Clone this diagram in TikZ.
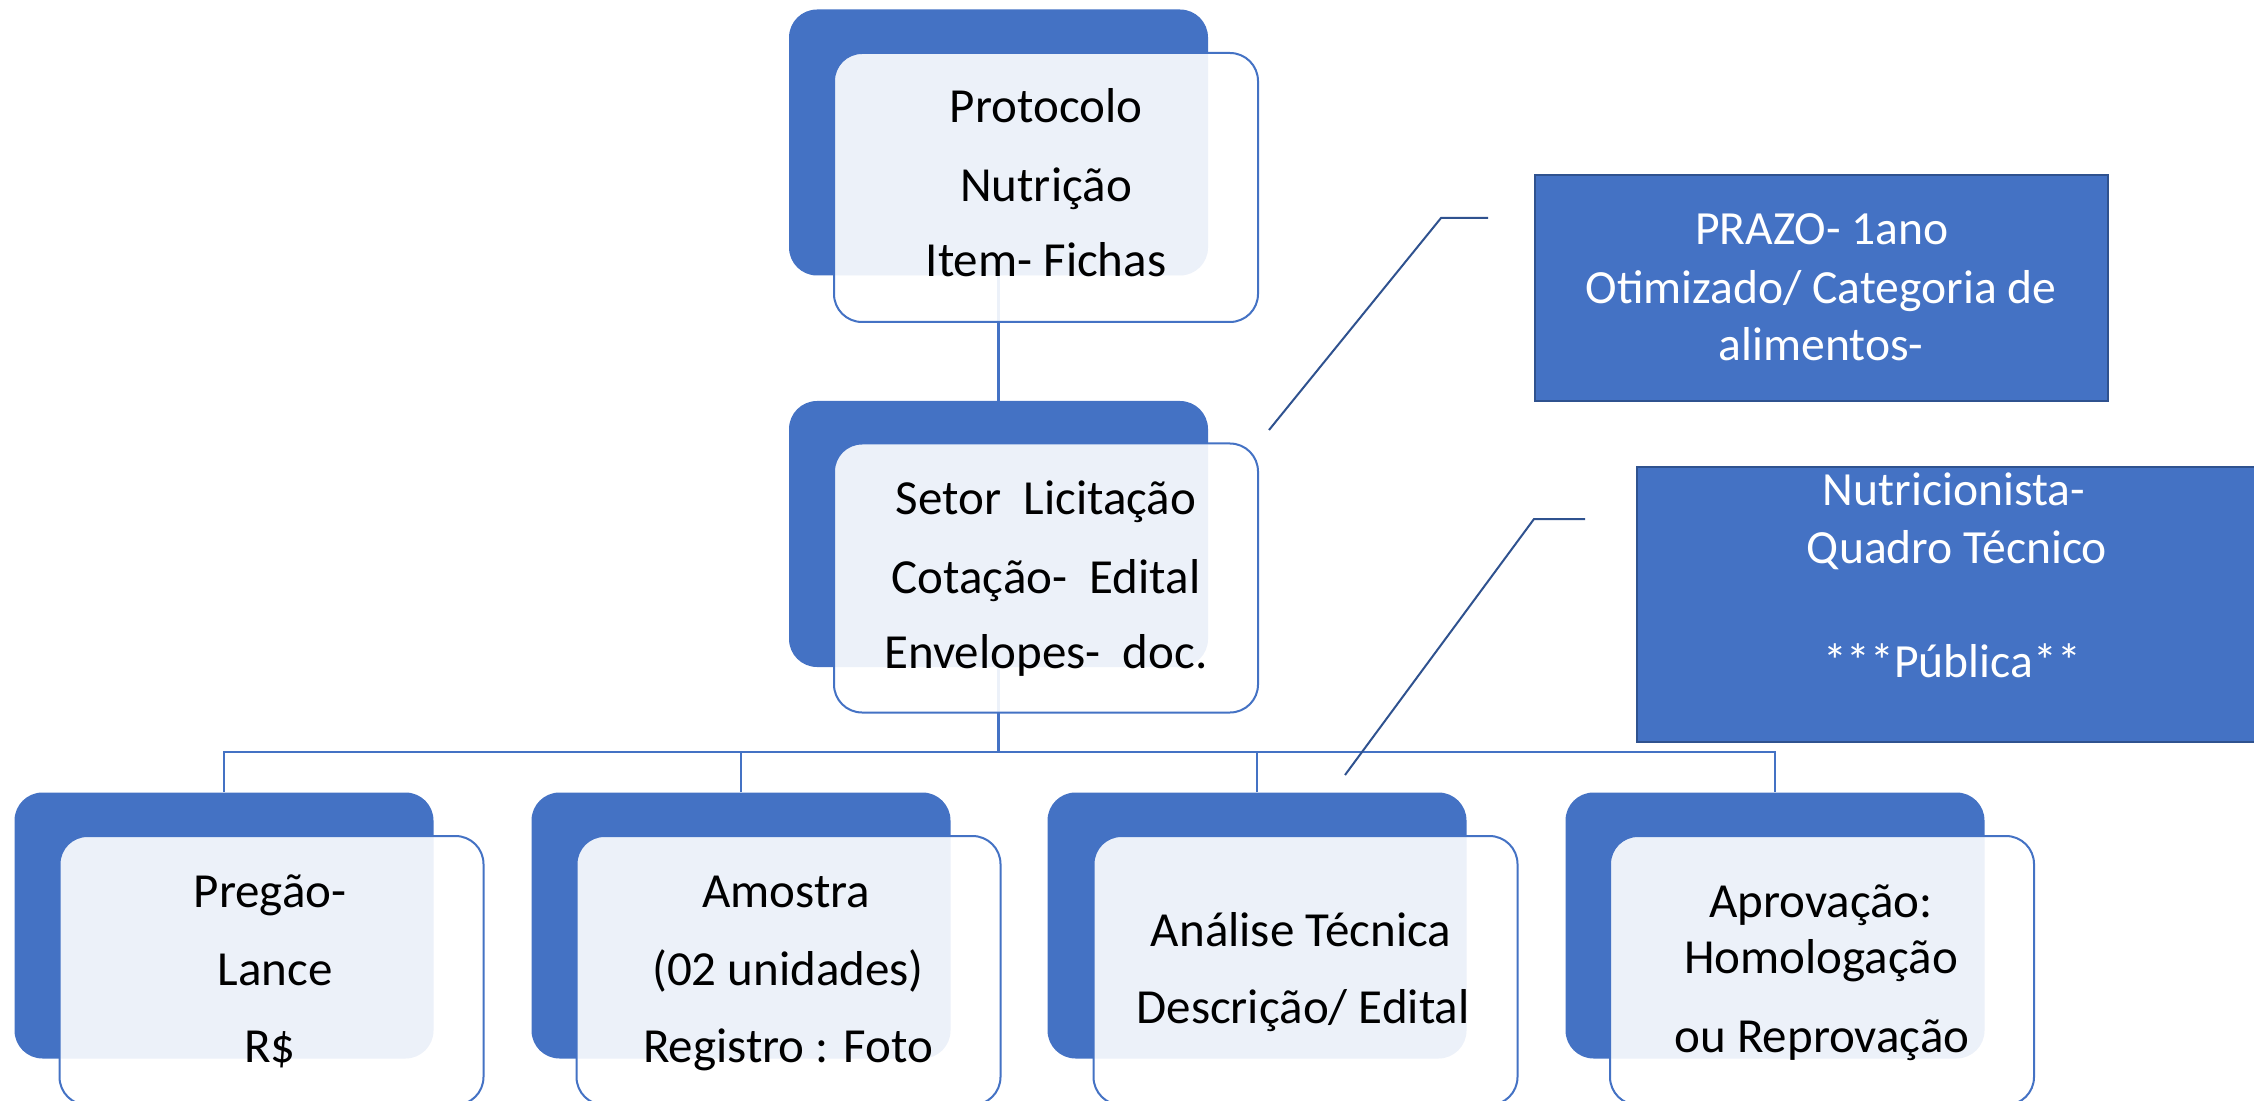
\documentclass[tikz,border=0pt]{standalone}
\usepackage{fontspec}
\setmainfont{Carlito}
\definecolor{sablue}{HTML}{4472C4}
\definecolor{sadark}{HTML}{2F528F}
\tikzset{
  backbox/.style={fill=sablue, draw=none, rounded corners=14pt, minimum width=209.5pt, minimum height=133pt, inner sep=0pt},
  frontbox/.style={fill=white, fill opacity=0.9, draw=sablue, line width=1pt, rounded corners=14pt, minimum width=212pt, minimum height=134.5pt, inner sep=0pt},
  conn/.style={draw=sablue, line width=1.2pt},
  callline/.style={draw=sadark, line width=1pt},
  callbox/.style={fill=sablue, draw=sadark, line width=1pt, inner sep=0pt},
  txt/.style={anchor=base, inner sep=0pt, font=\fontsize{24.5}{29}\selectfont, text=black},
  wtxt/.style={anchor=base, inner sep=0pt, font=\fontsize{23.8}{28}\selectfont, text=white}
}
\begin{document}
\begin{tikzpicture}[x=0.5pt, y=-0.5pt]
\useasboundingbox (0,0) rectangle (2254,1101);
% back boxes
\node[backbox] (tb) at (998.5,142.5) {};
\node[backbox] (mb) at (998.5,534) {};
\node[backbox] (b1) at (224,925.5) {};
\node[backbox] (b2) at (741,925.5) {};
\node[backbox] (b3) at (1257,925.5) {};
\node[backbox] (b4) at (1775,925.5) {};
% connectors
\coordinate (bar) at (998.5,752);
\draw[conn] (tb.south) -- (mb.north);
\draw[conn] (mb.south) -- (bar);
\draw[conn] (b1.north) |- (bar);
\draw[conn] (b2.north) |- (bar);
\draw[conn] (b3.north) |- (bar);
\draw[conn] (b4.north) |- (bar);
% front boxes
\node[frontbox] (tf) at (1046,187.5) {};
\node[frontbox] (mf) at (1046,578) {};
\node[frontbox] (f1) at (271.5,970.5) {};
\node[frontbox] (f2) at (788.5,970.5) {};
\node[frontbox] (f3) at (1305.5,970.5) {};
\node[frontbox] (f4) at (1822,970.5) {};
% callouts
\node[callbox, minimum width=286.5pt, minimum height=113pt] (prazo) at (1821.5,288) {};
\node[callbox, minimum width=318pt, minimum height=137.5pt] (nutri) at (1955,604.5) {};
\coordinate (c1a) at (1269,430);
\coordinate (c1b) at (1441,218);
\coordinate (c1c) at (1488,218);
\draw[callline] (c1a) -- (c1b) -- (c1c);
\coordinate (c2a) at (1345,775);
\coordinate (c2b) at (1534,519);
\coordinate (c2c) at (1585,519);
\draw[callline] (c2a) -- (c2b) -- (c2c);
% texts
\node[txt] (t1) at (1046,123) {Protocolo};
\node[txt] (t2) at (1046,202) {Nutrição};
\node[txt] (t3) at (1046,277) {Item- Fichas};
\node[txt] (m1) at (1046,515) {Setor\ \ Licitação};
\node[txt] (m2) at (1046,593) {Cotação-\ \ Edital};
\node[txt] (m3) at (1046,668) {Envelopes-\ \ doc.};
\node[txt] (p1) at (270,907) {Pregão-};
\node[txt] (p2) at (275,985) {Lance};
\node[txt] (p3) at (270,1062) {R\$};
\node[txt] (a1) at (786,907) {Amostra};
\node[txt] (a2) at (788,985) {(02 unidades)};
\node[txt] (a3) at (788,1062) {Registro : Foto};
\node[txt] (n1) at (1301,946) {Análise Técnica};
\node[txt] (n2) at (1303,1023) {Descrição/ Edital};
\node[txt] (r1) at (1821,917) {Aprovação:};
\node[txt] (r2) at (1821,973) {Homologação};
\node[txt] (r3) at (1822,1052) {ou Reprovação};
\node[wtxt] (z1) at (1822,245) {PRAZO- 1ano};
\node[wtxt] (z2) at (1821,304) {Otimizado/ Categoria de};
\node[wtxt] (z3) at (1821,361) {alimentos-};
\node[wtxt] (q1) at (1954,505) {Nutricionista-};
\node[wtxt] (q2) at (1957,563) {Quadro Técnico};
\node[wtxt] (q3) at (1952,677) {***Pública**};
\end{tikzpicture}
\end{document}
